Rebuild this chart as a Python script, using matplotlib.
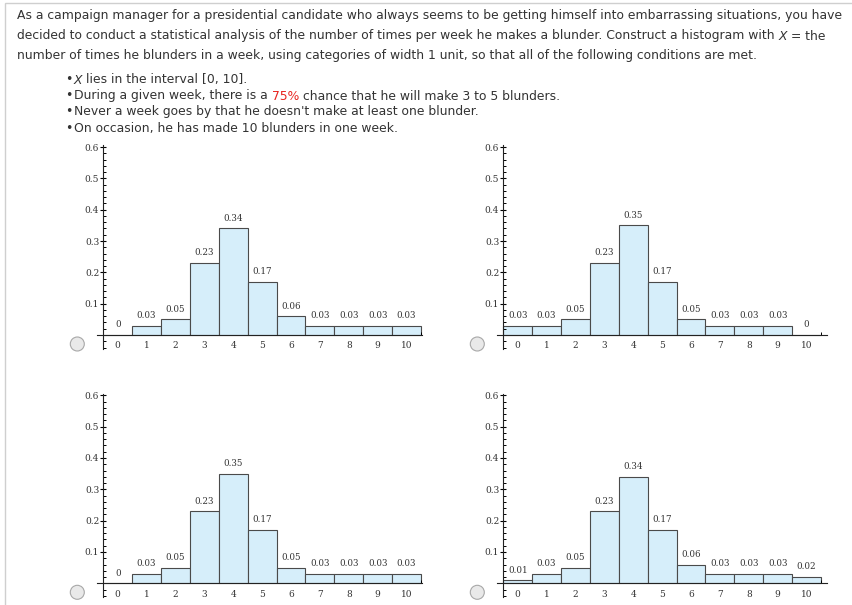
import matplotlib
matplotlib.use("Agg")
import matplotlib.pyplot as plt
from matplotlib.patches import Rectangle, Ellipse
import numpy as np

# question text
line1 = "As a campaign manager for a presidential candidate who always seems to be getting himself into embarrassing situations, you have"
line2 = "decided to conduct a statistical analysis of the number of times per week he makes a blunder. Construct a histogram with"
line2_end = "= the"
line3 = "number of times he blunders in a week, using categories of width 1 unit, so that all of the following conditions are met."
bullet1 = "lies in the interval [0, 10]."
bullet2_a = "During a given week, there is a"
bullet2_pct = "75%"
bullet2_b = "chance that he will make 3 to 5 blunders."
bullet3 = "Never a week goes by that he doesn't make at least one blunder."
bullet4 = "On occasion, he has made 10 blunders in one week."

# histogram data (four answer choices)
blunders = list(range(11))
values_a = [0, 0.03, 0.05, 0.23, 0.34, 0.17, 0.06, 0.03, 0.03, 0.03, 0.03]
values_b = [0.03, 0.03, 0.05, 0.23, 0.35, 0.17, 0.05, 0.03, 0.03, 0.03, 0]
values_c = [0, 0.03, 0.05, 0.23, 0.35, 0.17, 0.05, 0.03, 0.03, 0.03, 0.03]
values_d = [0.01, 0.03, 0.05, 0.23, 0.34, 0.17, 0.06, 0.03, 0.03, 0.03, 0.02]
y_ticks = [0.1, 0.2, 0.3, 0.4, 0.5, 0.6]

W, H = 853, 605
fig = plt.figure(figsize=(W / 100, H / 100), dpi=100)
fig.patch.set_facecolor("white")


def px(x, y):
    return x / W, 1 - y / H


# light border of the question box
fig.patches.append(Rectangle(px(5.5, 700), 900 / W, 697.5 / H, transform=fig.transFigure,
                             fill=False, edgecolor="#cfcfcf", linewidth=1))

renderer = fig.canvas.get_renderer()
text_kw = dict(fontsize=8.95, family="DejaVu Sans", color="#333333", va="center")
sp = (fig.text(0, 0, "a a", **text_kw).get_window_extent(renderer).width
      - fig.text(0, 0, "aa", **text_kw).get_window_extent(renderer).width)
for t in fig.texts[:]:
    t.remove()


def write(x, y, parts):
    for s, kw in parts:
        t = fig.text(*px(x, y), s, **{**text_kw, **kw})
        gap = sp * 0.4 if s == "•" else sp
        x += t.get_window_extent(renderer).width + gap


write(17, 16, [(line1, {})])
write(17, 36, [(line2, {}), ("X", {"style": "italic"}), (line2_end, {})])
write(17, 56, [(line3, {})])
write(65, 80, [("•", {}), ("X", {"style": "italic"}), (bullet1, {})])
write(65, 96, [("•", {}), (bullet2_a, {}), (bullet2_pct, {"color": "#e8231e"}), (bullet2_b, {})])
write(65, 112, [("•", {}), (bullet3, {})])
write(65, 128, [("•", {}), (bullet4, {})])

# panel layout: pixel origin of (x=-0.5, y=0) and right end of x axis
ux, uy = 28.88, 313.3
xlim, ylim = (-0.85, 10.85), (-0.06, 0.63)
panels = [
    (values_a, 103.3, 335.0, 10.55),
    (values_b, 503.3, 335.0, 10.72),
    (values_c, 103.3, 583.3, 10.55),
    (values_d, 503.3, 583.3, 10.72),
]

for vals, ox, oy, xend in panels:
    left = ox + (xlim[0] + 0.5) * ux
    top = oy - ylim[1] * uy
    bottom = oy - ylim[0] * uy
    ax = fig.add_axes([left / W, 1 - bottom / H, (xlim[1] - xlim[0]) * ux / W, (bottom - top) / H])
    ax.set_xlim(xlim)
    ax.set_ylim(ylim)
    ax.patch.set_alpha(0)
    bars = ax.bar(blunders, vals, width=1.0, color="#d6eefa", edgecolor="#4a4a4a", linewidth=0.8)
    for b, v in zip(bars, vals):
        ax.annotate(f"{v:g}", (b.get_x() + 0.5, v), xytext=(0, 4), textcoords="offset points",
                    ha="center", va="bottom", fontsize=6.3, family="DejaVu Serif", color="#333333")
    for s in ["top", "right"]:
        ax.spines[s].set_visible(False)
    ax.spines["left"].set_position(("data", -0.5))
    ax.spines["bottom"].set_position(("data", 0))
    ax.spines["left"].set_bounds(-0.045, 0.605)
    ax.spines["bottom"].set_bounds(-0.72, xend)
    for s in ["left", "bottom"]:
        ax.spines[s].set_linewidth(0.8)
        ax.spines[s].set_color("#222222")
    ax.set_yticks(y_ticks)
    ax.set_yticklabels([f"{v:g}" for v in y_ticks])
    ax.set_yticks([v for v in np.arange(-0.04, 0.61, 0.02) if abs(v * 10 - round(v * 10)) > 1e-6], minor=True)
    ax.tick_params(axis="y", which="major", direction="inout", length=4, width=0.8, pad=1,
                   labelsize=6.5, labelcolor="#333333")
    ax.tick_params(axis="y", which="minor", direction="in", length=2.5, width=0.7)
    ax.set_xticks(blunders)
    ax.set_xticks([10.5], minor=True)
    ax.tick_params(axis="x", which="major", length=0, pad=4.5, labelsize=6.5, labelcolor="#333333")
    ax.tick_params(axis="x", which="minor", direction="in", length=2.5, width=0.7)
    for lbl in ax.get_xticklabels() + ax.get_yticklabels():
        lbl.set_family("DejaVu Serif")

    # radio button to the left of each choice
    rx, ry = ox - 26, oy + 9
    fig.patches.append(Ellipse(px(rx, ry), 14 / W, 14 / H, transform=fig.transFigure,
                               facecolor="#e9e9e9", edgecolor="#a8a8a8", linewidth=0.8))

fig.savefig("out.png", dpi=100)
